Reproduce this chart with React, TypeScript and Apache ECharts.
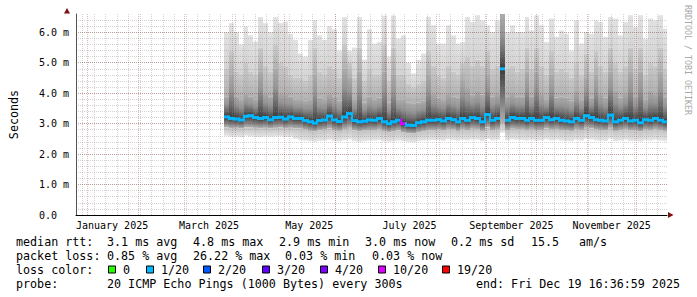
import React, { useEffect, useRef } from 'react';
import * as echarts from 'echarts';

// ---- time frame (days counted from Jan 1 2025) ----
const xMin = -6.95; // plot start (Dec 25 2024)
const xMax = 352.69; // end: Fri Dec 19 16:36:59 2025
const firstDay = 83; // first smoke column (Mar 25 2025)
const stepDays = 3; // each column = 3 days

// ---- smoke values per column (ms) ----
const smokeMax = [
  6.0, 6.3, 6.0, 5.6, 6.2, 5.9, 5.7, 6.5, 6.3, 6.0,
  6.5, 6.3, 6.35, 5.95, 5.75, 5.3, 5.2, 5.75, 6.4, 5.9,
  5.75, 6.2, 6.1, 5.4, 6.5, 5.4, 5.5, 6.5, 5.1, 6.1,
  5.63, 5.68, 6.55, 5.2, 6.55, 5.79, 5.9, 5.0, 4.65, 5.1,
  5.3, 6.5, 6.23, 5.63, 5.63, 6.23, 5.9, 5.63, 5.68, 6.5,
  6.34, 6.56, 6.39, 6.23, 6.01, 6.39, 6.6, 6.01, 6.23, 6.01,
  6.01, 6.5, 6.06, 6.56, 6.23, 5.68, 6.45, 5.85, 6.06, 5.95,
  5.4, 6.39, 5.63, 6.01, 5.95, 6.39, 6.34, 5.85, 6.5, 6.45,
  5.9, 6.34, 6.56, 6.17, 6.56, 5.79, 6.45, 6.39, 6.56, 6.12,
];
const smokeHigh = [
  4.8, 5.4, 4.7, 4.6, 5.0, 4.7, 4.6, 5.5, 4.9, 4.7,
  5.6, 5.0, 4.9, 4.6, 4.5, 4.5, 4.4, 4.6, 5.5, 4.7,
  4.6, 4.9, 4.8, 4.5, 5.6, 5.0, 4.5, 5.5, 4.4, 4.8,
  4.6, 4.6, 5.6, 4.4, 5.5, 4.6, 4.6, 4.3, 4.2, 4.3,
  4.4, 5.4, 4.9, 4.6, 4.5, 4.9, 4.7, 4.6, 5.0, 5.2,
  4.9, 5.1, 4.9, 5.4, 4.8, 4.9, 6.6, 4.8, 4.9, 4.7,
  4.8, 5.5, 4.8, 5.5, 4.9, 4.6, 5.4, 4.7, 4.8, 4.7,
  4.5, 5.0, 4.6, 5.3, 4.7, 5.4, 4.9, 4.7, 5.5, 5.0,
  4.7, 4.9, 5.5, 4.8, 5.5, 4.6, 5.0, 4.9, 5.5, 4.8,
];
const smokeMid = [
  3.9, 4.6, 3.9, 3.8, 4.0, 3.9, 3.8, 4.7, 4.0, 3.9,
  4.8, 4.0, 4.0, 3.9, 3.8, 3.8, 3.75, 3.8, 4.6, 3.85,
  3.8, 4.0, 3.9, 3.75, 4.8, 4.5, 3.8, 4.7, 3.7, 3.9,
  3.8, 3.85, 4.7, 3.7, 4.6, 3.8, 3.8, 3.7, 3.65, 3.7,
  3.75, 4.6, 4.0, 3.85, 3.8, 4.0, 3.9, 3.85, 4.4, 4.2,
  3.95, 4.1, 3.95, 4.6, 3.9, 4.0, 6.6, 3.9, 4.0, 3.9,
  3.9, 4.7, 3.9, 4.7, 4.0, 3.8, 4.6, 3.85, 3.9, 3.85,
  3.75, 4.1, 3.8, 4.5, 3.85, 4.6, 4.0, 3.85, 4.7, 4.1,
  3.85, 4.0, 4.7, 3.9, 4.7, 3.8, 4.1, 4.0, 4.7, 3.9,
];
const medianRtt = [
  3.22, 3.17, 3.15, 3.12, 3.24, 3.26, 3.2, 3.17, 3.2, 3.13,
  3.2, 3.21, 3.15, 3.22, 3.17, 3.17, 3.1, 3.06, 3.02, 3.1,
  3.12, 3.25, 3.12, 3.07, 3.22, 3.33, 3.1, 3.06, 3.08, 3.12,
  3.11, 3.17, 3.06, 3.0, 3.06, 3.11, 3.0, 2.95, 2.94, 3.03,
  3.06, 3.11, 3.11, 3.13, 3.09, 3.17, 3.13, 3.06, 3.17, 3.11,
  3.2, 3.17, 3.06, 3.3, 3.11, 3.17, 4.8, 3.11, 3.2, 3.17,
  3.17, 3.11, 3.17, 3.11, 3.11, 3.2, 3.13, 3.17, 3.11, 3.09,
  3.06, 3.17, 3.11, 3.26, 3.2, 3.13, 3.11, 3.09, 3.28, 3.06,
  3.11, 3.17, 3.09, 3.11, 3.03, 3.13, 3.11, 3.17, 3.11, 3.06,
];
const smokeLow = [
  2.88, 2.85, 2.86, 2.84, 2.88, 2.87, 2.86, 2.85, 2.86, 2.84,
  2.86, 2.87, 2.85, 2.86, 2.85, 2.84, 2.8, 2.76, 2.74, 2.78,
  2.8, 2.84, 2.79, 2.76, 2.82, 2.86, 2.78, 2.75, 2.77, 2.79,
  2.79, 2.82, 2.76, 2.72, 2.75, 2.78, 2.72, 2.68, 2.67, 2.72,
  2.75, 2.78, 2.79, 2.8, 2.77, 2.82, 2.8, 2.76, 2.82, 2.79,
  2.83, 2.82, 2.76, 2.88, 2.79, 2.82, 3.0, 2.79, 2.83, 2.82,
  2.82, 2.79, 2.82, 2.79, 2.79, 2.84, 2.8, 2.82, 2.79, 2.77,
  2.76, 2.82, 2.79, 2.86, 2.84, 2.8, 2.79, 2.77, 2.86, 2.76,
  2.79, 2.82, 2.77, 2.79, 2.74, 2.8, 2.79, 2.82, 2.79, 2.76,
];
const smokeMin = [
  2.6, 2.57, 2.58, 2.56, 2.6, 2.58, 2.57, 2.56, 2.58, 2.57,
  2.58, 2.59, 2.56, 2.57, 2.5, 2.46, 2.44, 2.42, 2.4, 2.43,
  2.44, 2.47, 2.43, 2.41, 2.45, 2.48, 2.42, 2.4, 2.42, 2.44,
  2.44, 2.46, 2.42, 2.4, 2.42, 2.44, 2.42, 2.4, 2.39, 2.42,
  2.44, 2.45, 2.46, 2.46, 2.44, 2.48, 2.46, 2.43, 2.47, 2.45,
  2.48, 2.47, 2.43, 2.5, 2.45, 2.47, 2.7, 2.45, 2.48, 2.47,
  2.46, 2.44, 2.47, 2.44, 2.45, 2.48, 2.45, 2.47, 2.44, 2.43,
  2.42, 2.47, 2.44, 2.5, 2.48, 2.45, 2.44, 2.43, 2.5, 2.42,
  2.44, 2.47, 2.43, 2.44, 2.41, 2.45, 2.44, 2.47, 2.44, 2.42,
];
// index into lossColors for each column
const lossIdx = [
  1, 1, 1, 1, 1, 1, 1, 1, 1, 1,
  1, 1, 1, 1, 1, 1, 1, 1, 1, 1,
  1, 1, 1, 1, 1, 1, 1, 1, 1, 1,
  1, 1, 1, 1, 1, 1, 5, 1, 1, 1,
  1, 1, 1, 1, 1, 1, 1, 1, 1, 1,
  1, 1, 1, 1, 1, 1, 1, 1, 1, 1,
  1, 1, 1, 1, 1, 1, 1, 1, 1, 1,
  1, 1, 1, 1, 1, 1, 1, 1, 1, 1,
  1, 1, 1, 1, 1, 1, 1, 1, 1, 1,
];

const lossLabels = ['0', '1/20', '2/20', '3/20', '4/20', '10/20', '19/20'];
const lossColors = ['#26ff00', '#00b8ff', '#0059ff', '#5e00ff', '#7e00ff', '#dd00ff', '#ff0000'];

const xLabelNames = ['January 2025', 'March 2025', 'May 2025', 'July 2025', 'September 2025', 'November 2025'];
const xLabelMonths = [0, 2, 4, 6, 8, 10];
const yMajor = [0, 1, 2, 3, 4, 5, 6];

const statRow1 = ['median rtt:', '3.1 ms avg', '4.8 ms max', '2.9 ms min', '3.0 ms now', '0.2 ms sd', '15.5', 'am/s'];
const statRow2 = ['packet loss:', '0.85 % avg', '26.22 % max', '0.03 % min', '0.03 % now'];
const probeText = '20 ICMP Echo Pings (1000 Bytes) every 300s';
const endText = 'end: Fri Dec 19 16:36:59 2025';

// ---- layout / style constants ----
const MONO = '"DejaVu Sans Mono", monospace';
const LEG_FS = 11.7;
const row1X = [16, 107, 193, 279, 365, 451, 531, 579];
const row2X = [16, 107, 193, 285, 372];
const squareX = [108, 146, 203, 262, 320, 378, 442];
const rowY = [241.5, 255.5, 269.5, 283.5];

const DAY = 86400000;
const dayOf = (y: number, m: number, d: number) => (Date.UTC(y, m, d) - Date.UTC(2025, 0, 1)) / DAY;
const monthStarts: number[] = [];
for (let m = 0; m < 12; m++) monthStarts.push(dayOf(2025, m, 1));
const labelDays = xLabelMonths.map((m) => dayOf(2025, m, 1) + 15);
const weekDays: number[] = [];
for (let d = dayOf(2024, 11, 29); d <= xMax; d += 7) weekDays.push(d);
const yMinor: number[] = [];
for (let i = 1; i <= 32; i++) yMinor.push(Math.round(i * 2) / 10);

function lg(stops: [number, string][]) {
  return new echarts.graphic.LinearGradient(0, 0, 0, 1, stops.map(([offset, color]) => ({ offset, color })));
}

function buildOption() {
  const smokeData = smokeMax.map((mx, i) => [
    firstDay + i * stepDays,
    firstDay + (i + 1) * stepDays,
    smokeMin[i],
    smokeLow[i],
    medianRtt[i],
    smokeMid[i],
    smokeHigh[i],
    mx,
  ]);
  const medData = medianRtt.map((m, i) => [
    firstDay + i * stepDays,
    firstDay + (i + 1) * stepDays,
    m,
    lossIdx[i],
    i > 0 ? medianRtt[i - 1] : m,
  ]);

  const minorLine = { color: 'rgba(140,140,140,0.38)', type: [1, 1], width: 1 };
  const majorLine = { color: 'rgba(140,30,30,0.3)', type: [1, 1], width: 1 };

  const graphic: any[] = [];
  // arrows
  graphic.push({ type: 'polygon', shape: { points: [[64, 13.5], [70, 13.5], [67, 8]] }, style: { fill: '#7f1010' }, z: 10 });
  graphic.push({ type: 'polygon', shape: { points: [[668, 212], [668, 218], [673.5, 215]] }, style: { fill: '#7f1010' }, z: 10 });
  // watermark
  graphic.push({
    type: 'text', x: 688, y: 60, rotation: -Math.PI / 2,
    style: { text: 'RRDTOOL / TOBI OETIKER', fontFamily: MONO, fontSize: 8.3, fill: '#a8a8a8', align: 'center', verticalAlign: 'middle' },
  });
  const txt = (text: string, x: number, y: number, align = 'left') => ({
    type: 'text', x, y,
    style: { text, fontFamily: MONO, fontSize: LEG_FS, fill: '#000', align, verticalAlign: 'middle' },
  });
  statRow1.forEach((t, i) => graphic.push(txt(t, row1X[i], rowY[0])));
  statRow2.forEach((t, i) => graphic.push(txt(t, row2X[i], rowY[1])));
  graphic.push(txt('loss color:', 16, rowY[2]));
  lossLabels.forEach((lab, i) => {
    graphic.push({
      type: 'rect', shape: { x: squareX[i] + 0.5, y: rowY[2] - 3.5, width: 7, height: 7 },
      style: { fill: lossColors[i], stroke: '#000', lineWidth: 1 },
    });
    graphic.push(txt(lab, squareX[i] + 15, rowY[2]));
  });
  graphic.push(txt('probe:', 16, rowY[3]));
  graphic.push(txt(probeText, 107, rowY[3]));
  graphic.push(txt(endText, 680, rowY[3], 'right'));

  return {
    animation: false,
    backgroundColor: '#ffffff',
    grid: { left: 67, right: 30, top: 14, bottom: 82, containLabel: false },
    xAxis: [
      {
        type: 'value', min: xMin, max: xMax, position: 'bottom', z: 3,
        axisLine: { show: true, onZero: false, lineStyle: { color: '#000', width: 1 } },
        axisTick: { show: false, customValues: weekDays },
        axisLabel: { show: false },
        splitLine: { show: true, lineStyle: minorLine },
      },
      {
        type: 'value', min: xMin, max: xMax, position: 'bottom', z: 3,
        axisLine: { show: false, onZero: false },
        axisTick: { show: false, customValues: monthStarts },
        axisLabel: {
          show: true, customValues: labelDays, margin: 5,
          fontFamily: MONO, fontSize: 10, color: '#000',
          formatter: (v: number) => {
            const k = labelDays.findIndex((d) => Math.abs(d - v) < 0.01);
            return k >= 0 ? xLabelNames[k] : '';
          },
        },
        splitLine: { show: true, lineStyle: majorLine },
      },
    ],
    yAxis: [
      {
        type: 'value', min: 0, max: 6.6, position: 'left', z: 3,
        axisLine: { show: true, onZero: false, lineStyle: { color: '#555', width: 1 } },
        axisTick: { show: false, customValues: yMinor },
        axisLabel: { show: false },
        splitLine: { show: true, lineStyle: minorLine },
      },
      {
        type: 'value', min: 0, max: 6.6, position: 'left', offset: 0, z: 3,
        name: 'Seconds', nameLocation: 'middle', nameGap: 56, nameRotate: 90,
        nameTextStyle: { fontFamily: MONO, fontSize: LEG_FS, color: '#000' },
        axisLine: { show: false, onZero: false },
        axisTick: { show: false, customValues: yMajor },
        axisLabel: {
          show: true, customValues: yMajor, align: 'left', margin: 37,
          fontFamily: MONO, fontSize: 10, color: '#000',
          formatter: (v: number) => (v === 0 ? '0.0' : v.toFixed(1) + ' m'),
        },
        splitLine: { show: true, lineStyle: majorLine },
      },
    ],
    graphic,
    series: [
      {
        type: 'custom', name: 'smoke', xAxisIndex: 0, yAxisIndex: 0, clip: true, z: 2,
        data: smokeData,
        renderItem: (params: any, api: any) => {
          const x0 = Math.round(api.coord([api.value(0), 0])[0]);
          const x1 = Math.round(api.coord([api.value(1), 0])[0]);
          const Y = (d: number) => api.coord([0, api.value(d)])[1];
          const yMinP = Y(2), yLow = Y(3), yMed = Y(4), yMid = Y(5), yHigh = Y(6), yMaxP = Y(7);
          const w = x1 - x0;
          const r = (top: number, bot: number, fill: any) => ({
            type: 'rect', shape: { x: x0, y: top, width: w, height: Math.max(0, bot - top) }, style: { fill },
          });
          return {
            type: 'group',
            children: [
              r(yMaxP, yHigh, lg([[0, '#e2e2e2'], [1, '#d3d3d3']])),
              r(yHigh, yMid, lg([[0, '#cacaca'], [1, '#b0b0b0']])),
              r(yMid, yMed, lg([[0, '#acacac'], [0.4, '#949494'], [0.72, '#686868'], [1, '#3a3a3a']])),
              r(yMed, yLow, lg([[0, '#3a3a3a'], [0.35, '#646464'], [1, '#b2b2b2']])),
              r(yLow, yMinP, lg([[0, '#c2c2c2'], [1, '#e6e6e6']])),
            ],
          };
        },
      },
      {
        type: 'custom', name: 'median', xAxisIndex: 0, yAxisIndex: 0, clip: true, z: 5,
        data: medData,
        renderItem: (params: any, api: any) => {
          const x0 = Math.round(api.coord([api.value(0), 0])[0]);
          const x1 = Math.round(api.coord([api.value(1), 0])[0]);
          const y = api.coord([0, api.value(2)])[1];
          const yp = api.coord([0, api.value(4)])[1];
          const color = lossColors[api.value(3)];
          const children: any[] = [
            { type: 'rect', shape: { x: x0, y: y - 1.5, width: x1 - x0, height: 3 }, style: { fill: color } },
          ];
          if (params.dataIndex > 0 && Math.abs(y - yp) < 15) {
            children.push({
              type: 'rect', shape: { x: x0 - 1, y: Math.min(y, yp) - 1.5, width: 2, height: Math.abs(y - yp) + 3 },
              style: { fill: color },
            });
          }
          return { type: 'group', children };
        },
      },
    ],
  };
}

export default function App() {
  const ref = useRef<HTMLDivElement>(null);
  useEffect(() => {
    const chart = echarts.init(ref.current!, null, { renderer: 'svg' });
    chart.setOption(buildOption() as any);
    return () => chart.dispose();
  }, []);
  return (
    <div
      ref={ref}
      style={{ position: 'fixed', left: 0, top: 0, width: 697, height: 297, background: '#fff' }}
    />
  );
}
